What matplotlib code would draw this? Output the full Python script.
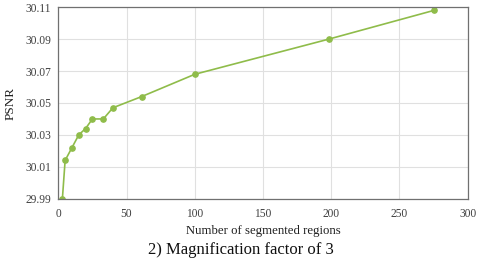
import matplotlib.pyplot as plt

# Number of segmented regions vs PSNR (magnification factor 3)
regions = [3, 5, 10, 15, 20, 25, 33, 40, 61, 100, 198, 275]
psnr = [29.990, 30.014, 30.022, 30.030, 30.034, 30.040, 30.040, 30.047,
        30.054, 30.068, 30.090, 30.108]
x_ticks = [0, 50, 100, 150, 200, 250, 300]
y_ticks = [29.99, 30.01, 30.03, 30.05, 30.07, 30.09, 30.11]

plt.rcParams['font.family'] = ['Liberation Serif', 'DejaVu Serif']

fig = plt.figure(figsize=(4.8, 2.62), dpi=100)
ax = fig.add_axes([58.3 / 480, 1 - 198.7 / 262, (467.7 - 58.3) / 480, (198.7 - 7.3) / 262])

line_color = '#8fbc4a'
ax.plot(regions, psnr, color=line_color, linewidth=1.2, marker='o',
        markersize=3.8, markerfacecolor=line_color, markeredgecolor=line_color)

ax.set_xlim(0, 300)
ax.set_ylim(29.99, 30.11)
ax.set_xticks(x_ticks)
ax.set_yticks(y_ticks)
ax.set_yticklabels([f"{v:.2f}" for v in y_ticks])
ax.grid(True, color='#e0e0e0', linewidth=0.8)
ax.set_axisbelow(True)
ax.tick_params(length=0, labelsize=8.3, colors='#404040')
ax.tick_params(axis='x', pad=7)
ax.tick_params(axis='y', pad=5)
for s in ax.spines.values():
    s.set_color('#707070')
    s.set_linewidth(0.9)

ax.set_xlabel('Number of segmented regions', fontsize=9.2, color='#202020', labelpad=3)
ax.set_ylabel('PSNR', fontsize=9.5, color='#202020', labelpad=6)

fig.text(241 / 480, 1 - 250 / 262, '2) Magnification factor of 3', ha='center',
         va='center', fontsize=12, color='#101010')

fig.savefig('out.png', dpi=100)
